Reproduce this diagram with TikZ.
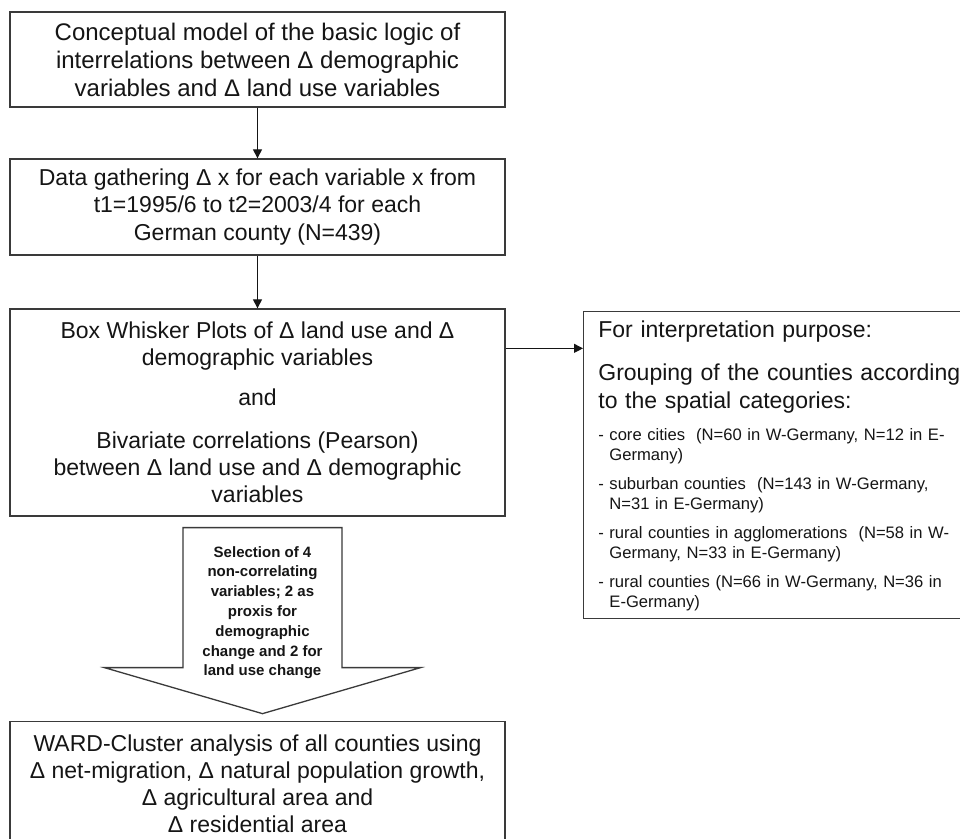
\documentclass[tikz,border=0pt]{standalone}
\usepackage{fontspec}
\setmainfont{Liberation Sans}
\usetikzlibrary{positioning, calc, arrows.meta}

\begin{document}
\begin{tikzpicture}[
  x=0.5pt, y=-0.5pt,
  font=\fontsize{11.5}{13.6}\selectfont,
  >={Triangle[length=4.5pt,width=4.5pt]},
  stepbox/.style={draw=cLine, line width=0.65pt, fill=white, align=center,
                  minimum width=247.5pt, inner sep=3pt, text=cText},
  flow/.style={draw=cText, line width=0.55pt, ->},
  note/.style={anchor=base west, inner sep=0pt, align=left, text=cText,
               text width=185pt},
  item/.style={note, font=\fontsize{8.3}{10}\selectfont},
]

\definecolor{cLine}{HTML}{3A3A3A}
\definecolor{cText}{HTML}{151515}

\useasboundingbox (0,0) rectangle (960,839);
\clip (0,0) rectangle (960,839);
\fill[white] (0,0) rectangle (960,839);

% =====================================================================
% Main column (left)
% =====================================================================
\pgfmathsetmacro{\colX}{257.5}

\node[stepbox, minimum height=47.5pt, font=\fontsize{12}{14}\selectfont]
  (model) at (\colX, 59.5)
  {Conceptual model of the basic logic of\\
   interrelations between Δ demographic\\
   variables and Δ land use variables};

\node[stepbox, minimum height=48pt] (data) at (\colX, 207)
  {Data gathering Δ x for each variable x from\\
   t1=1995/6 to t2=2003/4 for each\\
   German county (N=439)};

\node[stepbox, minimum height=103.5pt] (boxplot) at (\colX, 412.5)
  {Box Whisker Plots of Δ land use and Δ\\
   demographic variables\\[6pt]
   and\\[8pt]
   Bivariate correlations (Pearson)\\
   between Δ land use and Δ demographic\\
   variables};

\node[stepbox, minimum height=62pt, anchor=north] (ward) at (\colX, 721)
  {WARD-Cluster analysis of all counties using\\
   Δ net-migration, Δ natural population growth,\\
   Δ agricultural area and\\
   Δ residential area};

\draw[flow] (model) -- (data);
\draw[flow] (data) -- (boxplot);

% =====================================================================
% Block arrow: selection of variables
% =====================================================================
\pgfmathsetmacro{\shaftW}{79.5}   % half width of the shaft
\pgfmathsetmacro{\headW}{158}     % half width of the head
\pgfmathsetmacro{\shaftL}{140}
\pgfmathsetmacro{\headL}{46}

\coordinate (selTop) at ($(boxplot.south)+(5,11)$);

\draw[cLine, line width=0.65pt, fill=white, line join=miter]
  ($(selTop)+(-\shaftW,0)$) -- ($(selTop)+(\shaftW,0)$)
  -- ($(selTop)+(\shaftW,\shaftL)$) -- ($(selTop)+(\headW,\shaftL)$)
  -- ($(selTop)+(0,\shaftL+\headL)$)
  -- ($(selTop)+(-\headW,\shaftL)$) -- ($(selTop)+(-\shaftW,\shaftL)$)
  -- cycle;

\node[align=center, inner sep=0pt, text=cText,
      font=\bfseries\fontsize{7.5}{9.9}\selectfont]
  (sel) at ($(selTop)+(0,85)$)
  {Selection of 4\\non-correlating\\variables; 2 as\\proxis for\\
   demographic\\change and 2 for\\land use change};

% =====================================================================
% Interpretation box (right)
% =====================================================================
\node[draw=cLine, line width=0.65pt, anchor=north west,
      minimum width=200pt, minimum height=153.5pt] (info) at (583, 311) {};

\draw[flow] ($(boxplot.north east)+(0,40)$) coordinate (tap) -- (tap -| info.west);

\node[note] (purpose) at (598, 338) {For interpretation purpose:};
\node[note] (grouping) at (598, 381)
  {Grouping of the counties according\\to the spatial categories:};

\foreach \y/\txt [count=\k] in {
    441/{- core cities~ (N=60 in W-Germany, N=12 in E-\\\phantom{- }Germany)},
    490/{- suburban counties~ (N=143 in W-Germany,\\\phantom{- }N=31 in E-Germany)},
    539/{- rural counties in agglomerations~ (N=58 in W-\\\phantom{- }Germany, N=33 in E-Germany)},
    588/{- rural counties (N=66 in W-Germany, N=36 in\\\phantom{- }E-Germany)}}{
  \node[item] (cat\k) at (598, \y) {\txt};
}

\end{tikzpicture}
\end{document}
